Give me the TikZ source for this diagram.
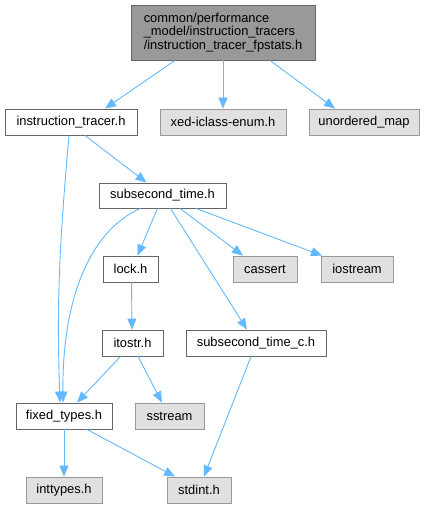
\documentclass[tikz,border=0pt]{standalone}
\usepackage{fontspec}
\setmainfont{Liberation Sans}
\usetikzlibrary{arrows.meta}
\definecolor{edgec}{HTML}{63B8FF}
\definecolor{grayfill}{HTML}{E0E0E0}
\definecolor{grayline}{HTML}{999999}
\definecolor{darkline}{HTML}{666666}
\definecolor{topfill}{HTML}{999999}
\tikzset{
  box/.style={draw=darkline, fill=white, line width=0.9pt, inner sep=0pt, minimum height=26pt, font=\fontsize{12.9}{14}\selectfont},
  extbox/.style={box, draw=grayline, fill=grayfill},
  topbox/.style={box, fill=topfill, draw=darkline, align=left, minimum height=55pt, font=\fontsize{12.9}{13.4}\selectfont},
  edge/.style={draw=edgec, line width=0.9pt, -{Triangle[length=11pt,width=9pt]}}
}
\begin{document}
\begin{tikzpicture}[x=1pt,y=-1pt]
\useasboundingbox (0,0) rectangle (425,508);
\node[topbox, minimum width=184pt] (top) at (223,32.5) {common/performance\\\_model/instruction\_tracers\\/instruction\_tracer\_fpstats.h};
\node[box, minimum width=132pt] (it) at (71,122) {instruction\_tracer.h};
\node[extbox, minimum width=126pt] (xed) at (223,122) {xed-iclass-enum.h};
\node[extbox, minimum width=110pt] (um) at (364,122) {unordered\_map};
\node[box, minimum width=127pt, minimum height=25pt] (st) at (162.5,195.5) {subsecond\_time.h};
\node[box, minimum width=55pt] (lock) at (130.5,269) {lock.h};
\node[extbox, minimum width=64pt] (cassert) at (265,269) {cassert};
\node[extbox, minimum width=72pt] (ios) at (357,269) {iostream};
\node[box, minimum width=61pt] (itostr) at (132.5,343) {itostr.h};
\node[box, minimum width=140pt] (stc) at (256,343) {subsecond\_time\_c.h};
\node[box, minimum width=96pt] (ft) at (64,416) {fixed\_types.h};
\node[extbox, minimum width=69pt] (ss) at (169.5,416) {sstream};
\node[extbox, minimum width=76pt] (inttypes) at (64,490) {inttypes.h};
\node[extbox, minimum width=64pt] (stdint) at (199,490) {stdint.h};

\draw[edge] ([xshift=-48pt]top.south) -- ([xshift=34pt]it.north);
\draw[edge] (top.south) -- (xed.north);
\draw[edge] ([xshift=47pt]top.south) -- ([xshift=-29pt]um.north);
\draw[edge] ([xshift=14pt]it.south) -- ([xshift=-16pt]st.north);
\draw[edge] ([xshift=-2pt]it.south) to[out=-95,in=92] ([xshift=-4pt]ft.north);
\draw[edge] ([xshift=-22pt]st.south) .. controls (95,228) and (62,290) .. ([xshift=-1pt]ft.north);
\draw[edge] ([xshift=-5pt]st.south) -- ([xshift=7pt]lock.north);
\draw[edge] ([xshift=8pt]st.south) -- ([xshift=-9pt]stc.north);
\draw[edge] ([xshift=17.5pt]st.south) -- ([xshift=-22pt]cassert.north);
\draw[edge] ([xshift=33.5pt]st.south) -- ([xshift=-35pt]ios.north);
\draw[edge] ([xshift=1pt]lock.south) -- ([xshift=-0.5pt]itostr.north);
\draw[edge] ([xshift=-12pt]itostr.south) -- ([xshift=13pt]ft.north);
\draw[edge] ([xshift=5.5pt]itostr.south) -- ([xshift=-7.5pt]ss.north);
\draw[edge] (ft.south) -- (inttypes.north);
\draw[edge] ([xshift=23pt]ft.south) -- ([xshift=-24pt]stdint.north);
\draw[edge] ([xshift=-5pt]stc.south) -- ([xshift=5pt]stdint.north);
\end{tikzpicture}
\end{document}
